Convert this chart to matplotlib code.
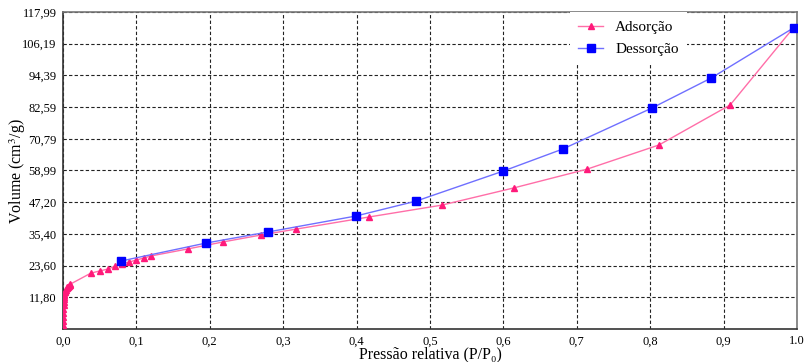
import matplotlib.pyplot as plt
import numpy as np

plt.rcParams['font.family'] = ['Liberation Serif', 'DejaVu Serif']
plt.rcParams['mathtext.fontset'] = 'stix'

# adsorção (triângulos)
ads_x = [0.0002, 0.0003, 0.0004, 0.0005, 0.0006, 0.0007, 0.0008, 0.001, 0.0012, 0.0015,
         0.002, 0.0025, 0.003, 0.004, 0.005, 0.006, 0.007, 0.008, 0.009, 0.010,
         0.038, 0.050, 0.061, 0.071, 0.080, 0.090, 0.100, 0.110, 0.120,
         0.170, 0.218, 0.270, 0.318, 0.417, 0.516, 0.614, 0.714, 0.812, 0.909, 0.996]
ads_y = [1.5, 3.0, 4.5, 6.0, 7.5, 9.0, 10.0, 11.0, 11.8, 12.5,
         13.2, 13.7, 14.1, 14.7, 15.1, 15.5, 15.8, 16.1, 16.4, 16.7,
         20.8, 21.6, 22.3, 23.4, 24.2, 24.9, 25.7, 26.4, 27.2,
         29.8, 32.4, 35.0, 37.2, 41.7, 46.1, 52.5, 59.5, 68.5, 83.4, 112.4]

# dessorção (quadrados)
des_x = [0.079, 0.195, 0.279, 0.399, 0.481, 0.600, 0.681, 0.802, 0.883, 0.996]
des_y = [25.3, 32.0, 36.1, 42.05, 47.6, 58.8, 67.0, 82.2, 93.4, 112.2]

xticks = [0.0, 0.1, 0.2, 0.3, 0.4, 0.5, 0.6, 0.7, 0.8, 0.9, 1.0]
xlabels = ['0,0', '0,1', '0,2', '0,3', '0,4', '0,5', '0,6', '0,7', '0,8', '0,9', '1.0']
ymax = 117.99
yticks = [11.799 * k for k in range(1, 11)]
ylabels = ['11,80', '23,60', '35,40', '47,20', '58,99', '70,79', '82,59', '94,39', '106,19', '117,99']

fig = plt.figure(figsize=(8.06, 3.62), dpi=100)
ax = fig.add_axes([63/806, 33/362, 734/806, 317/362])

ax.plot(ads_x, ads_y, color='#ff6ea8', lw=1.0, marker='^', ms=4.5,
        mfc='#ff1a7a', mec='#ff1a7a', label='Adsorção', zorder=3)
ax.plot(des_x, des_y, color='#6f6fff', lw=1.0, marker='s', ms=5.5,
        mfc='#0000ff', mec='#0000ff', label='Dessorção', zorder=4)

ax.set_xlim(0, 1.0)
ax.set_ylim(0, ymax)
ax.set_xticks(xticks)
ax.set_xticklabels(xlabels)
ax.set_yticks(yticks)
ax.set_yticklabels(ylabels)
ax.tick_params(length=0, labelsize=9, pad=4.5)
ax.grid(True, color='#222222', lw=0.8, ls=(0, (3, 2)))
for s in ['left', 'bottom']:
    ax.spines[s].set_color('#333333')
    ax.spines[s].set_linewidth(1.2)
for s in ['top', 'right']:
    ax.spines[s].set_color('#777777')
    ax.spines[s].set_linewidth(1.2)

ax.set_xlabel('Pressão relativa (P/P₀)', fontsize=11.5)
ax.set_ylabel('Volume (cm$^3$/g)', fontsize=11.5)
ax.xaxis.set_label_coords(0.5, -(346 - 329) / 317)
ax.yaxis.set_label_coords(-(63 - 18) / 734, 0.5)
ax.xaxis.label.set_va('top')
ax.yaxis.label.set_va('center')

leg = ax.legend(loc='upper left', bbox_to_anchor=(570/806, 1 - 12/362), bbox_transform=fig.transFigure,
                fontsize=11, frameon=True, framealpha=1, edgecolor='none', fancybox=False,
                handlelength=1.6, borderpad=0.55, labelspacing=0.55, borderaxespad=0)
leg.set_zorder(5)

fig.savefig('out.png', dpi=100)
